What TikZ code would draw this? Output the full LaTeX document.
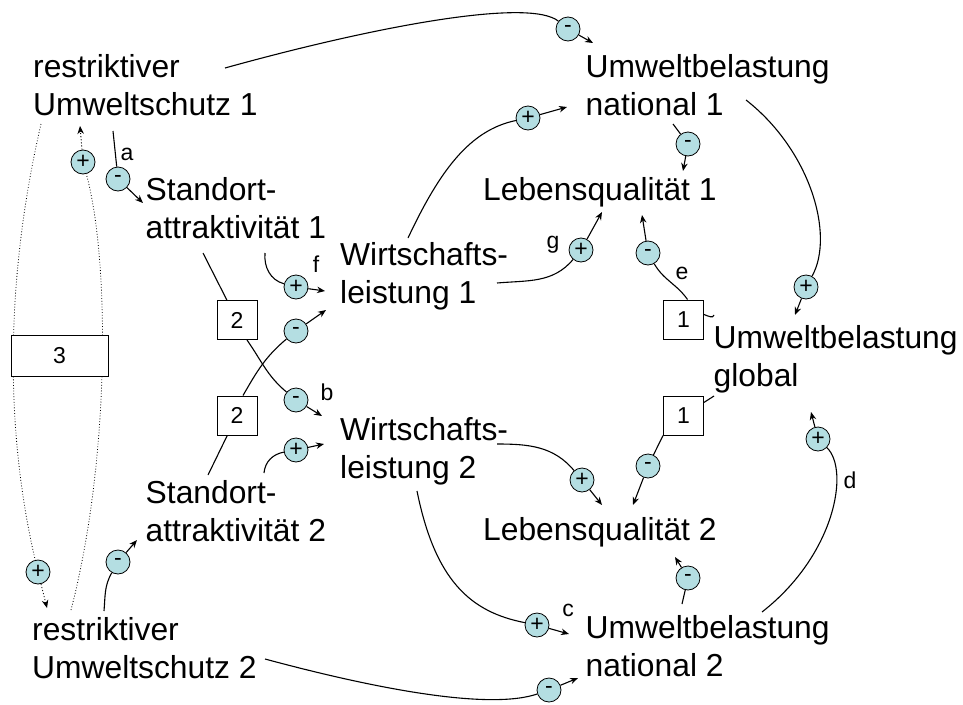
\documentclass[tikz,border=0pt]{standalone}
\usepackage{fontspec}
\setmainfont{Liberation Sans}
\usetikzlibrary{arrows.meta}
\definecolor{signblue}{RGB}{180,222,226}
\begin{document}
\begin{tikzpicture}[x=1pt,y=-1pt]
      \tikzstyle{VAR} = [anchor=north west, inner sep=0pt, align=left, font=\fontsize{31.8}{38}\selectfont]
      \tikzstyle{SGN} = [draw, circle, fill=signblue, minimum size=24pt, inner sep=0pt, line width=0.8pt, font=\fontsize{23}{23}\selectfont]
      \tikzstyle{DLY} = [draw, fill=white, minimum width=40pt, minimum height=39pt, inner sep=0pt, line width=1pt, font=\fontsize{23}{23}\selectfont]
      \tikzstyle{LNK} = [line width=1.1pt]
      \tikzstyle{ARR} = [->, >={Stealth[length=8pt,width=6.5pt]}, line width=1.1pt]
      \tikzstyle{DOT} = [dotted, line width=0.8pt]
      \tikzstyle{LBL} = [inner sep=0pt, font=\fontsize{23}{23}\selectfont]

      \useasboundingbox (0,0) rectangle (963,704);

      %%%%% VARIABLES

      \node[VAR](ru1) at (33,54.4) {restriktiver\\Umweltschutz 1};
      \node[VAR](un1) at (585.5,54.4) {Umweltbelastung\\national 1};
      \node[VAR](sa1) at (145.5,177.4) {Standort-\\attraktivität 1};
      \node[VAR](lq1) at (483,177.4) {Lebensqualität 1};
      \node[VAR](wl1) at (340,242.4) {Wirtschafts-\\leistung 1};
      \node[VAR](ug) at (713.5,325.4) {Umweltbelastung\\global};
      \node[VAR](wl2) at (340,417.4) {Wirtschafts-\\leistung 2};
      \node[VAR](sa2) at (145.5,480.4) {Standort-\\attraktivität 2};
      \node[VAR](lq2) at (483,517.4) {Lebensqualität 2};
      \node[VAR](ru2) at (32,617.4) {restriktiver\\Umweltschutz 2};
      \node[VAR](un2) at (585.5,615.4) {Umweltbelastung\\national 2};

      %%%%% DELAYS

      \node[DLY](b2a) at (237,320) {2};
      \node[DLY](b2b) at (237,415.5) {2};
      \node[DLY](b1a) at (683.5,319.5) {1};
      \node[DLY](b1b) at (683.5,415.5) {1};

      %%%%% SIGNS

      \node[SGN](s1) at (568,29) {-};
      \node[SGN](s2) at (528,118) {+};
      \node[SGN](s3) at (688,144) {-};
      \node[SGN](s4) at (806,287) {+};
      \node[SGN](s5) at (38,572) {+};
      \node[SGN](s6) at (83,162) {+};
      \node[SGN](s7) at (118,179) {-};
      \node[SGN](s8) at (296,400) {-};
      \node[SGN](s9) at (296,331) {-};
      \node[SGN](s10) at (296,287) {+};
      \node[SGN](s11) at (296,450) {+};
      \node[SGN](s12) at (581,250) {+};
      \node[SGN](s13) at (648,253) {-};
      \node[SGN](s14) at (648,466) {-};
      \node[SGN](s15) at (582,480) {+};
      \node[SGN](s16) at (688,578) {-};
      \node[SGN](s17) at (818,439) {+};
      \node[SGN](s18) at (537,625) {+};
      \node[SGN](s19) at (549,690) {-};
      \node[SGN](s20) at (118,562) {-};

      %%%%% END POINTS

      \coordinate (o1) at (225,68);   \coordinate (e1) at (593,43);
      \coordinate (o2) at (408,238);  \coordinate (e2) at (567,107);
      \coordinate (o3) at (673,124);  \coordinate (e3) at (683,171);
      \coordinate (o4) at (746,100);  \coordinate (e4) at (795,315);
      \coordinate (o5) at (41,124);   \coordinate (e5) at (47,608);
      \coordinate (o6) at (71,610);   \coordinate (e6) at (80,126);
      \coordinate (o7) at (113,131);  \coordinate (e7) at (143,203);
      \coordinate (o8) at (203,253);  \coordinate (e8) at (322,416);
      \coordinate (o9) at (208,475);  \coordinate (e9) at (326,310);
      \coordinate (o10) at (265,253); \coordinate (e10) at (325,291);
      \coordinate (o11) at (264,473); \coordinate (e11) at (324,444);
      \coordinate (o12) at (497,283); \coordinate (e12) at (602,212);
      \coordinate (e13) at (642,215);
      \coordinate (o14) at (714,315);
      \coordinate (o15) at (714,396); \coordinate (e15) at (633,505);
      \coordinate (o16) at (497,444); \coordinate (e16) at (602,505);
      \coordinate (o17) at (682,604); \coordinate (e17) at (675,557);
      \coordinate (o18) at (762,612); \coordinate (e18) at (811,412);
      \coordinate (o19) at (417,491); \coordinate (e19) at (569,634);
      \coordinate (o20) at (265,659); \coordinate (e20) at (578,678);
      \coordinate (o21) at (104,611); \coordinate (e21) at (137,540);

      %%%%% LINKS

      \draw[LNK] (o1) .. controls (380,25) and (530,-2) .. (s1);
      \draw[ARR] (s1) -- (e1);

      \draw[LNK] (o2) .. controls (440,170) and (470,130) .. (s2);
      \draw[ARR] (s2) -- (e2);

      \draw[LNK] (o3) -- (s3);
      \draw[ARR] (s3) -- (e3);

      \draw[LNK] (o4) .. controls (810,150) and (835,235) .. (s4);
      \draw[ARR] (s4) -- (e4);

      \draw[DOT] (o5) .. controls (5,280) and (5,430) .. (s5);
      \draw[ARR, DOT] (s5) -- (e5);

      \draw[DOT] (o6) .. controls (110,460) and (110,260) .. (s6);
      \draw[ARR, DOT] (s6) -- (e6);

      \draw[LNK] (o7) -- (s7);
      \draw[ARR] (s7) -- (e7);

      \draw[LNK] (o8) -- (b2a);
      \draw[LNK] ([xshift=10pt]b2a.south) to[out=-55, in=140] (s8);
      \draw[ARR] (s8) -- (e8);

      \draw[LNK] (o9) -- (b2b);
      \draw[LNK] ([xshift=6pt]b2b.north) to[out=60, in=-140] (s9);
      \draw[ARR] (s9) -- (e9);

      \draw[LNK] (o10) to[out=-95, in=165] (s10);
      \draw[ARR] (s10) -- (e10);

      \draw[LNK] (o11) to[out=85, in=190] (s11);
      \draw[ARR] (s11) -- (e11);

      \draw[LNK] (o12) to[out=5, in=-130] (s12);
      \draw[ARR] (s12) -- (e12);

      \draw[LNK] ([xshift=4pt]b1a.north) to[out=125, in=-60] (s13);
      \draw[ARR] (s13) -- (e13);

      \draw[LNK] (o14) to[out=-100, in=-20] ([yshift=5pt]b1a.east);

      \draw[LNK] (o15) -- (b1b);
      \draw[LNK] (b1b.south west) -- (s14);
      \draw[ARR] (s14) -- (e15);

      \draw[LNK] (o16) to[out=0, in=130] (s15);
      \draw[ARR] (s15) -- (e16);

      \draw[LNK] (o17) -- (s16);
      \draw[ARR] (s16) -- (e17);

      \draw[LNK] (o18) .. controls (835,555) and (850,470) .. (s17);
      \draw[ARR] (s17) -- (e18);

      \draw[LNK] (o19) .. controls (435,580) and (470,612) .. (s18);
      \draw[ARR] (s18) -- (e19);

      \draw[LNK] (o20) .. controls (380,690) and (490,710) .. (s19);
      \draw[ARR] (s19) -- (e20);

      \draw[LNK] (o21) to[out=85, in=-120] (s20);
      \draw[ARR] (s20) -- (e21);

      \node[DLY, minimum width=97pt, minimum height=41pt](b3) at (59.5,356) {3};

      %%%%% LABELS

      \node[LBL](la) at (127,154) {a};
      \node[LBL](lb) at (327,392) {b};
      \node[LBL](lc) at (568,610) {c};
      \node[LBL](ld) at (850,480) {d};
      \node[LBL](le) at (682,273) {e};
      \node[LBL](lf) at (316,264) {f};
      \node[LBL](lg) at (553,245) {g};
\end{tikzpicture}
\end{document}
